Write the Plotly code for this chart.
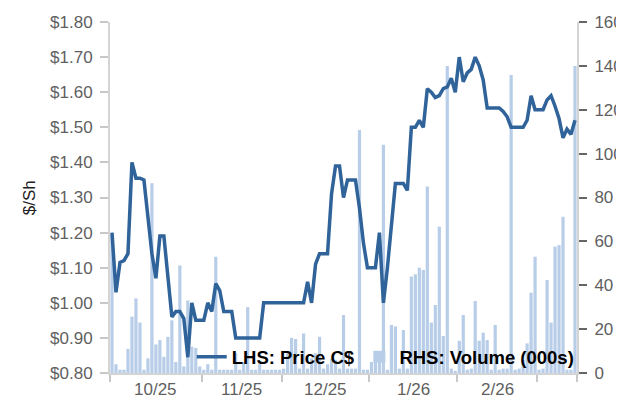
import plotly.graph_objects as go

# ---- data ----
month_labels = ["10/25", "11/25", "12/25", "1/26", "2/26", ""]
month_days = [23, 20, 22, 22, 20, 10]   # trading days per month shown

price = [
    1.20, 1.03, 1.115, 1.12, 1.14, 1.40, 1.355, 1.355, 1.35, 1.24,
    1.14, 1.07, 1.19, 1.19, 1.08, 0.96, 0.975, 0.975, 0.955, 0.845,
    1.00, 0.95, 0.95, 0.95, 1.00, 0.975, 1.055, 1.035, 0.975, 0.975,
    0.975, 0.90, 0.90, 0.90, 0.90, 0.90, 0.90, 0.90, 1.00, 1.00,
    1.00, 1.00, 1.00, 1.00, 1.00, 1.00, 1.00, 1.00, 1.00, 1.06,
    1.00, 1.11, 1.14, 1.14, 1.14, 1.31, 1.39, 1.39, 1.30, 1.35,
    1.35, 1.35, 1.27, 1.17, 1.10, 1.10, 1.10, 1.20, 1.00, 1.10,
    1.21, 1.34, 1.34, 1.34, 1.32, 1.50, 1.50, 1.52, 1.50, 1.61,
    1.60, 1.585, 1.59, 1.61, 1.615, 1.64, 1.60, 1.70, 1.63, 1.655,
    1.665, 1.70, 1.675, 1.635, 1.555, 1.555, 1.555, 1.555, 1.545, 1.53,
    1.50, 1.50, 1.50, 1.50, 1.52, 1.59, 1.55, 1.55, 1.55, 1.578,
    1.59, 1.56, 1.525, 1.47, 1.495, 1.48, 1.52,
]

volume = [
    63, 4, 1.5, 1.5, 11, 25.7, 34, 23, 1.5, 6.7,
    86.5, 13, 15, 7.4, 16.5, 24, 5, 49, 3, 33,
    12, 11.4, 3, 1.5, 4, 1.5, 53, 1.5, 1.5, 1.5,
    1.5, 9, 1.5, 5, 30, 1.5, 1.5, 4, 1.5, 1.5,
    1.5, 1.5, 1.5, 2, 9, 16, 15.5, 2, 18, 2,
    6.7, 9, 16.5, 2, 4, 6.4, 6, 2, 26.4, 2,
    2, 2, 110.8, 1.5, 1.5, 5, 8, 5, 104, 1.5,
    21.9, 21.2, 2, 19.6, 2, 44, 45, 48, 47, 85,
    23, 31, 66.7, 16.9, 140, 2, 1, 14.7, 26.4, 1.5,
    2, 32.8, 14.7, 18.4, 15, 1.5, 21.9, 1.5, 2, 2,
    135.8, 1.5, 2, 6, 13.5, 36.6, 53, 1.5, 2, 42.4,
    23, 57.6, 58.3, 71.2, 1.5, 1.5, 140,
]

price_ticks = [0.80, 0.90, 1.00, 1.10, 1.20, 1.30, 1.40, 1.50, 1.60, 1.70, 1.80]
price_tick_text = ["$%.2f" % v for v in price_ticks]
volume_ticks = [0, 20, 40, 60, 80, 100, 120, 140, 160]

n = len(price)
idx = list(range(n))

# month boundaries and centres (in trading-day index units)
bounds = [-0.5]
for d in month_days:
    bounds.append(bounds[-1] + d)
centers = [(bounds[i] + bounds[i + 1]) / 2 for i in range(len(month_days))]

FONT = "Liberation Sans, Arial, sans-serif"
TICK_COLOR = "#5f5f5f"
LEGEND_FONT = dict(family=FONT, size=18.5, color="#000000", weight="bold")

fig = go.Figure()
fig.add_trace(go.Bar(
    x=idx, y=volume, yaxis="y", name="RHS: Volume (000s)",
    marker=dict(color="#b7cde8", line=dict(width=0)),
    legend="legend2",
))
fig.add_trace(go.Scatter(
    x=idx, y=price, yaxis="y2", mode="lines", name="LHS: Price C$",
    line=dict(color="#2f6399", width=3.5),
    legend="legend",
))

annotations = []
for lab, c in zip(month_labels, centers):
    if lab:
        annotations.append(dict(
            x=c, xref="x", y=0, yref="paper", yanchor="top", yshift=-5,
            text=lab, showarrow=False, font=dict(family=FONT, size=17, color=TICK_COLOR),
        ))
annotations.append(dict(
    x=-0.172, xref="paper", y=0.5, yref="paper", text="$/Sh", textangle=-90,
    showarrow=False, font=dict(family=FONT, size=17, color="#222222"),
    xanchor="center", yanchor="middle",
))

# page body has an 8px margin, so the figure is 8px smaller than the window
fig.update_layout(
    width=616, height=392,
    margin=dict(l=102, r=47, t=14, b=27),
    paper_bgcolor="white", plot_bgcolor="white",
    font=dict(family=FONT, size=17, color=TICK_COLOR),
    bargap=0.2,
    showlegend=True,
    legend=dict(
        x=0.175, y=0.045, xanchor="left", yanchor="middle", orientation="h",
        bgcolor="rgba(0,0,0,0)", font=LEGEND_FONT,
    ),
    legend2=dict(
        x=0.534, y=0.045, xanchor="left", yanchor="middle", orientation="h",
        bgcolor="rgba(0,0,0,0)", font=LEGEND_FONT,
    ),
    xaxis=dict(
        range=[-0.5, n - 0.5], tickvals=bounds, ticktext=[""] * len(bounds),
        ticks="outside", ticklen=7, tickcolor="#c8c8c8", tickwidth=1.5,
        showline=True, linecolor="#d4d4d4", linewidth=2,
        showgrid=False, zeroline=False, automargin=False,
    ),
    yaxis=dict(
        side="right", range=[0, 160], tickvals=volume_ticks,
        ticks="outside", ticklen=8, tickcolor="#666666", tickwidth=1.5,
        showline=True, linecolor="#d4d4d4", linewidth=2,
        showgrid=False, zeroline=False, automargin=False,
        tickfont=dict(family=FONT, size=17, color=TICK_COLOR), ticklabelstandoff=4,
    ),
    yaxis2=dict(
        overlaying="y", side="left", range=[0.8, 1.8],
        tickvals=price_ticks, ticktext=price_tick_text,
        ticks="outside", ticklen=8, tickcolor="#c8c8c8", tickwidth=1.5,
        showline=True, linecolor="#d4d4d4", linewidth=2,
        showgrid=False, zeroline=False, automargin=False,
        tickfont=dict(family=FONT, size=17, color=TICK_COLOR), ticklabelstandoff=4,
    ),
    annotations=annotations,
)

fig.write_html("out.html")
